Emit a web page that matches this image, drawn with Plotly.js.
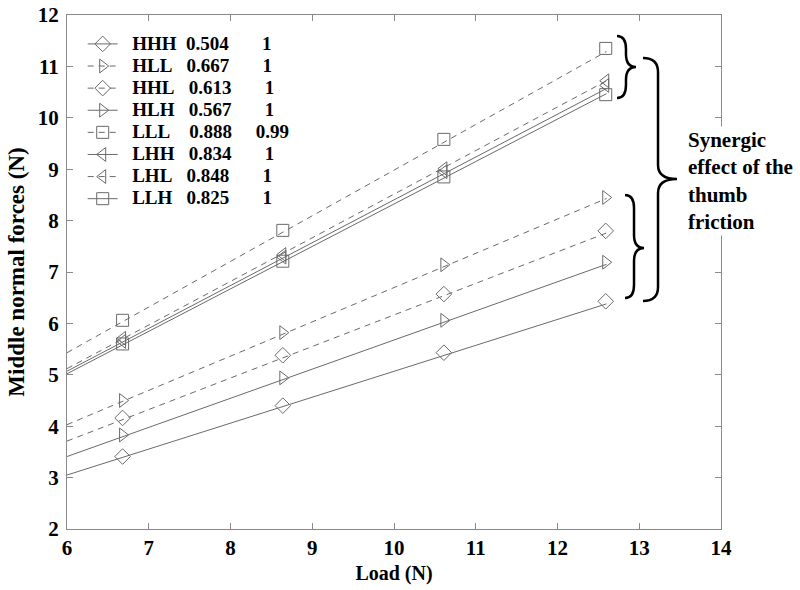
<!DOCTYPE html>
<html>
<head>
<meta charset="utf-8">
<script src="https://cdn.plot.ly/plotly-3.0.1.min.js"></script>
<style>html,body{margin:0;padding:0;background:#fff;}</style>
</head>
<body>
<div id="chart" style="width:800px;height:590px;"></div>
<script>
// ---- data ----
const loads = [6.68, 8.64, 10.61, 12.59];
const names = ['HHH', 'HLL', 'HHL', 'HLH', 'LLL', 'LHH', 'LHL', 'LLH'];
const slopes = ['0.504', '0.667', '0.613', '0.567', '0.888', '0.834', '0.848', '0.825'];
const r2 = ['1', '1', '1', '1', '0.99', '1', '1', '1'];
const HHH = [3.41, 4.40, 5.43, 6.43];
const HLL = [4.50, 5.82, 7.14, 8.45];
const HHL = [4.16, 5.38, 6.57, 7.80];
const HLH = [3.83, 4.94, 6.06, 7.19];
const LLL = [6.06, 7.81, 9.58, 11.35];
const LHH = [5.65, 7.29, 8.95, 10.63];
const LHL = [5.71, 7.34, 9.01, 10.72];
const LLH = [5.60, 7.21, 8.85, 10.45];
const fitX = [6, 12.6];
const fitStart = [3.05, 4.03, 3.71, 3.41, 5.43, 5.07, 5.12, 5.02];
const fitEnd = [6.38, 8.43, 7.76, 7.15, 11.29, 10.57, 10.72, 10.47];
const xTicks = [6, 7, 8, 9, 10, 11, 12, 13, 14];
const yTicks = [2, 3, 4, 5, 6, 7, 8, 9, 10, 11, 12];

const values = [HHH, HLL, HHL, HLH, LLL, LHH, LHL, LLH];
const symbols = ['diamond-open', 'triangle-right-open', 'diamond-open', 'triangle-right-open',
                 'square-open', 'triangle-left-open', 'triangle-left-open', 'square-open'];
const dashed = [false, true, true, false, true, false, true, false];

const FONT = '"Liberation Serif", "Times New Roman", Times, serif';
const GRAY = '#6a6a6a';
const DASH = '6px,5px';

// legend text with column alignment (measured with canvas)
const ctx = document.createElement('canvas').getContext('2d');
const LFS = 19;
ctx.font = 'bold ' + LFS + 'px "Liberation Serif"';
const nb = '\u00a0';
const nbW = ctx.measureText(nb).width || LFS * 0.25;
function pad(cur, target) {
  const n = Math.max(1, Math.round((target - cur) / nbW));
  return { s: nb.repeat(n), w: n * nbW };
}
function legendText(i) {
  let s = nb + nb;
  let cur = 2 * nbW;
  s += names[i]; cur += ctx.measureText(names[i]).width;
  const p1 = pad(cur, 2 * nbW + 56); s += p1.s; cur += p1.w;
  s += slopes[i]; cur += ctx.measureText(slopes[i]).width;
  const colR = r2[i].length > 1 ? 2 * nbW + 124 : 2 * nbW + 132;
  const p2 = pad(cur, colR); s += p2.s; cur += p2.w;
  s += r2[i];
  return '<span style="font-size:' + LFS + 'px">' + s + '</span>';
}

const traces = [];
for (let i = 0; i < names.length; i++) {
  const lineStyle = { color: GRAY, width: 1, dash: dashed[i] ? DASH : 'solid' };
  const mk = { symbol: symbols[i], size: 12, color: GRAY, line: { color: GRAY, width: 1 } };
  traces.push({
    x: fitX, y: [fitStart[i], fitEnd[i]], mode: 'lines', line: lineStyle,
    showlegend: false, legendgroup: names[i], hoverinfo: 'skip', name: names[i] + ' fit'
  });
  traces.push({
    x: loads, y: values[i], mode: 'markers', marker: mk,
    showlegend: false, legendgroup: names[i], name: names[i]
  });
  traces.push({
    x: [null], y: [null], mode: 'lines+markers', line: lineStyle, marker: mk,
    showlegend: true, legendgroup: names[i], name: legendText(i)
  });
}

// brace helper (pixel geometry of plot area -> paper coords)
const PL = 67, PR = 721, PT = 15, PB = 529;
function px(x) { return ((x - PL) / (PR - PL)).toFixed(4); }
function py(y) { return ((PB - y) / (PB - PT)).toFixed(4); }
function brace(tip, spine, point, top, mid, bot) {
  const r = Math.min(spine - tip + 4, 14);
  const P = (x, y) => px(x) + ',' + py(y);
  return 'M' + P(tip, top) +
    ' Q' + P(spine, top) + ' ' + P(spine, top + r) +
    ' L' + P(spine, mid - r) +
    ' Q' + P(spine, mid) + ' ' + P(point, mid) +
    ' Q' + P(spine, mid) + ' ' + P(spine, mid + r) +
    ' L' + P(spine, bot - r) +
    ' Q' + P(spine, bot) + ' ' + P(tip, bot);
}
const braceLine = { color: '#000', width: 2.5 };
const shapes = [
  { type: 'path', xref: 'paper', yref: 'paper', path: brace(617, 626, 636, 36, 67, 98), line: braceLine },
  { type: 'path', xref: 'paper', yref: 'paper', path: brace(643, 658, 677, 58, 179, 301), line: braceLine },
  { type: 'path', xref: 'paper', yref: 'paper', path: brace(625, 634, 644, 195, 248, 298), line: braceLine }
];

const axisCommon = {
  showgrid: false, zeroline: false, showline: true, linecolor: '#8a8a8a', linewidth: 1,
  mirror: 'ticks', ticks: 'inside', ticklen: 6, tickcolor: '#8a8a8a', tickwidth: 1,
  tickfont: { family: FONT, size: 21, weight: 'bold', color: '#000' }
};

const layout = {
  width: 800, height: 590,
  margin: { l: 67, r: 79, t: 15, b: 61 },
  paper_bgcolor: '#fff', plot_bgcolor: '#fff',
  font: { family: FONT, color: '#000' },
  xaxis: Object.assign({}, axisCommon, {
    range: [6, 14], tickvals: xTicks, ticktext: xTicks.map(String),
    title: { text: 'Load (N)', font: { family: FONT, size: 20, weight: 'bold', color: '#000' }, standoff: 6 }
  }),
  yaxis: Object.assign({}, axisCommon, {
    range: [2, 12], tickvals: yTicks, ticktext: yTicks.map(String),
    ticklabelstandoff: 3,
    title: { text: 'Middle normal forces (N)', font: { family: FONT, size: 23, weight: 'bold', color: '#000' }, standoff: 6 }
  }),
  showlegend: true,
  legend: {
    x: 0.024, y: 0.975, xanchor: 'left', yanchor: 'top',
    bgcolor: 'rgba(0,0,0,0)', borderwidth: 0,
    font: { family: FONT, size: 14.7, weight: 'bold', color: '#000' },
    tracegroupgap: 0
  },
  shapes: shapes,
  annotations: [{
    xref: 'paper', yref: 'paper', x: px(686), y: py(181), xanchor: 'left', yanchor: 'middle',
    text: 'Synergic<br>effect of the<br>thumb<br>friction', align: 'left', showarrow: false,
    bgcolor: '#fff', font: { family: FONT, size: 21, weight: 'bold', color: '#000' }
  }]
};

Plotly.newPlot('chart', traces, layout, { staticPlot: true, displayModeBar: false });
</script>
</body>
</html>
